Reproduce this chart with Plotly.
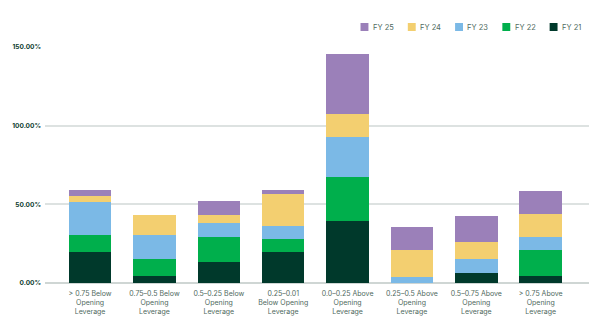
import plotly.graph_objects as go

categories = [
    "> 0.75 Below<br>Opening<br>Leverage",
    "0.75–0.5 Below<br>Opening<br>Leverage",
    "0.5–0.25 Below<br>Opening<br>Leverage",
    "0.25–0.01<br>Below Opening<br>Leverage",
    "0.0–0.25 Above<br>Opening<br>Leverage",
    "0.25–0.5 Above<br>Opening<br>Leverage",
    "0.5–0.75 Above<br>Opening<br>Leverage",
    "> 0.75 Above<br>Opening<br>Leverage",
]

fy21 = [20.0, 4.7, 13.1, 20.0, 39.6, 0.0, 6.5, 4.6]
fy22 = [10.8, 10.8, 16.3, 8.2, 27.9, 0.0, 0.0, 16.6]
fy23 = [21.0, 15.2, 8.9, 8.2, 25.4, 4.0, 8.9, 8.2]
fy24 = [3.8, 12.7, 5.1, 20.3, 14.7, 17.2, 10.8, 14.6]
fy25 = [3.8, 0.0, 8.9, 2.6, 38.1, 14.6, 16.6, 14.6]

y_ticks = [0, 50, 100, 150]
y_tick_labels = ["0.00%", "50.00%", "100.00%", "150.00%"]

series = [
    ("FY 21", fy21, "#00392b"),
    ("FY 22", fy22, "#00af4c"),
    ("FY 23", fy23, "#7bb9e6"),
    ("FY 24", fy24, "#f3cf70"),
    ("FY 25", fy25, "#9b80b9"),
]

W, H = 603, 333
M = dict(l=39, r=14, t=47, b=50)
plot_w = W - M["l"] - M["r"]
plot_h = H - M["t"] - M["b"]


def px_to_paper(px, py):
    return (px - M["l"]) / plot_w, (H - M["b"] - py) / plot_h


x_idx = list(range(len(categories)))

fig = go.Figure()
for name, vals, color in series:
    fig.add_trace(go.Bar(
        x=x_idx, y=vals, name=name, marker=dict(color=color, line=dict(width=0)),
        showlegend=False,
    ))

# compact legend row: square swatch + label, newest year first
leg_x0, leg_y, leg_step, sw = 358, 27, 47.8, 8
for i, (name, vals, color) in enumerate(reversed(series)):
    sx = leg_x0 + i * leg_step
    x0, y0 = px_to_paper(sx, leg_y + sw / 2)
    x1, y1 = px_to_paper(sx + sw, leg_y - sw / 2)
    fig.add_shape(type="rect", xref="paper", yref="paper",
                  x0=x0, y0=y0, x1=x1, y1=y1,
                  fillcolor=color, line=dict(width=0))
    tx, ty = px_to_paper(sx + sw + 2.5, leg_y)
    fig.add_annotation(xref="paper", yref="paper", x=tx, y=ty,
                       xanchor="left", yanchor="middle", showarrow=False,
                       text=name, font=dict(size=7.5, color="#4f6a60"))

fig.update_layout(
    width=W, height=H,
    margin=M,
    paper_bgcolor="white", plot_bgcolor="white",
    barmode="stack", bargap=0.34,
    showlegend=False,
    font=dict(family="Inter, Roboto, sans-serif"),
    xaxis=dict(
        tickmode="array", tickvals=x_idx, ticktext=categories,
        range=[-0.7, 7.75], showgrid=False, zeroline=False,
        showline=False, ticks="", ticklabelstandoff=5,
        tickfont=dict(size=7, color="#4f6a60"),
    ),
    yaxis=dict(
        range=[0, 150], tickmode="array", tickvals=y_ticks, ticktext=y_tick_labels,
        showgrid=True, gridcolor="#dde2e1", gridwidth=1.5,
        zeroline=True, zerolinecolor="#cfd6d4", zerolinewidth=1.5,
        showline=False, ticks="", ticklabelstandoff=3,
        tickfont=dict(size=6.5, color="#0b3b2e", weight="bold"),
    ),
)

fig.write_html("out.html")
